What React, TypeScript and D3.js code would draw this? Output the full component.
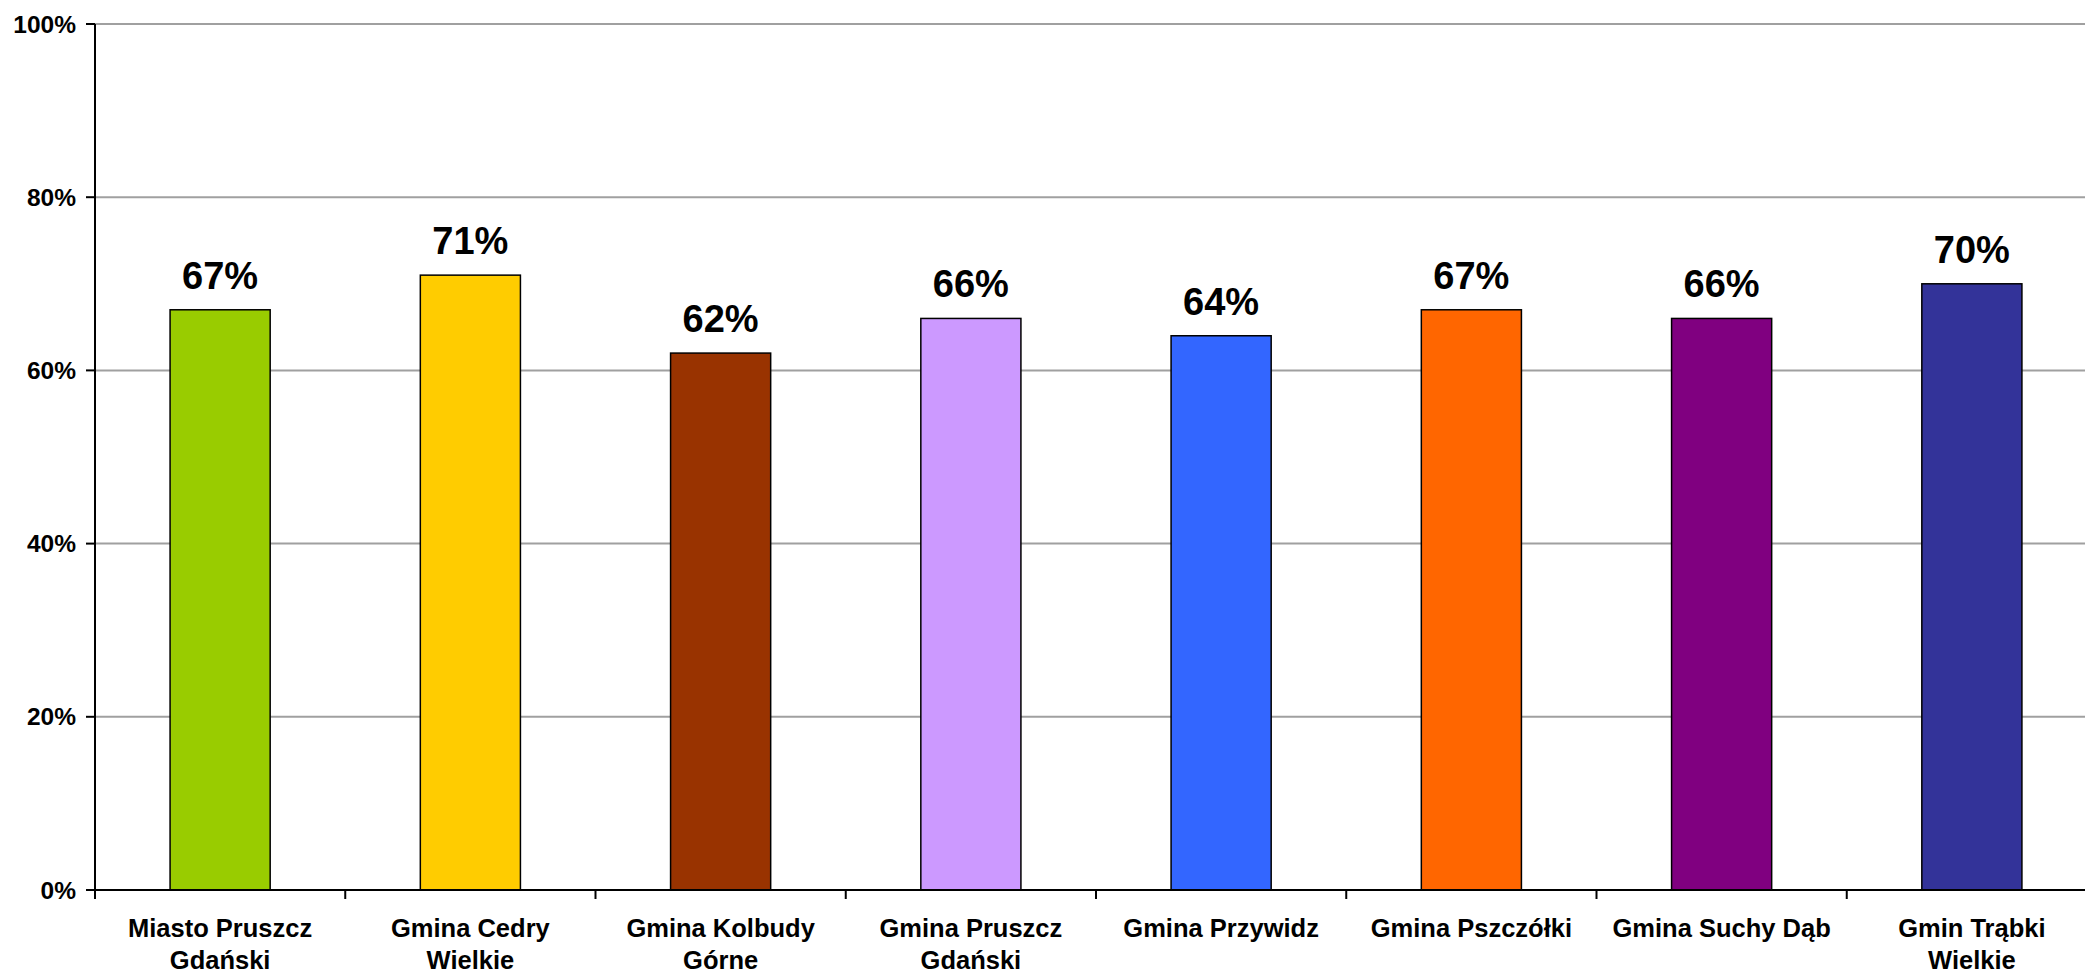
import React from "react";
import * as d3 from "d3";

const categories: string[][] = [
  ["Miasto Pruszcz", "Gdański"],
  ["Gmina Cedry", "Wielkie"],
  ["Gmina Kolbudy", "Górne"],
  ["Gmina Pruszcz", "Gdański"],
  ["Gmina Przywidz"],
  ["Gmina Pszczółki"],
  ["Gmina Suchy Dąb"],
  ["Gmin Trąbki", "Wielkie"],
];
const values: number[] = [67, 71, 62, 66, 64, 67, 66, 70];
const colors: string[] = ["#99CC00", "#FFCC00", "#993300", "#CC99FF", "#3366FF", "#FF6600", "#800080", "#333399"];
const yTicks: number[] = [0, 20, 40, 60, 80, 100];

const W = 2085;
const H = 974;
const left = 95;
const right = 2097;
const top = 24;
const bottom = 890;
const font = "'Liberation Sans', Arial, sans-serif";

export default function App() {
  const x = d3
    .scaleBand<number>()
    .domain(d3.range(categories.length))
    .range([left, right])
    .paddingInner(0.6)
    .paddingOuter(0.3);
  const band = d3.scaleBand<number>().domain(d3.range(categories.length)).range([left, right]);
  const y = d3.scaleLinear().domain([0, 100]).range([bottom, top]);

  return (
    <svg
      width={W}
      height={H}
      style={{ position: "absolute", left: 0, top: 0, background: "#fff" }}
      fontFamily={font}
    >
      {yTicks.map((t) => (
        <g key={t}>
          {t > 0 && (
            <line x1={left} x2={right} y1={y(t)} y2={y(t)} stroke="#A0A0A0" strokeWidth={2} />
          )}
          <line x1={left - 9} x2={left} y1={y(t)} y2={y(t)} stroke="#000" strokeWidth={2} />
          <text
            x={left - 19}
            y={y(t)}
            dy="0.35em"
            textAnchor="end"
            fontSize={24.5}
            fontWeight="bold"
          >
            {t}%
          </text>
        </g>
      ))}
      {values.map((v, i) => (
        <g key={i}>
          <rect
            x={x(i)!}
            y={y(v)}
            width={x.bandwidth()}
            height={y(0) - y(v)}
            fill={colors[i]}
            stroke="#000"
            strokeWidth={1.5}
          />
          <text
            x={x(i)! + x.bandwidth() / 2}
            y={y(v) - 21}
            textAnchor="middle"
            fontSize={38}
            fontWeight="bold"
          >
            {v}%
          </text>
        </g>
      ))}
      <line x1={left} x2={left} y1={top} y2={bottom} stroke="#000" strokeWidth={2} />
      <line x1={left} x2={right} y1={bottom} y2={bottom} stroke="#000" strokeWidth={2} />
      {d3.range(categories.length + 1).map((i) => {
        const xx = i < categories.length ? band(i)! : right;
        return <line key={i} x1={xx} x2={xx} y1={bottom} y2={bottom + 9} stroke="#000" strokeWidth={2} />;
      })}
      {categories.map((lines, i) => (
        <text
          key={i}
          x={band(i)! + band.bandwidth() / 2}
          y={937}
          textAnchor="middle"
          fontSize={25.5}
          fontWeight="bold"
        >
          {lines.map((l, j) => (
            <tspan key={j} x={band(i)! + band.bandwidth() / 2} y={937 + j * 32}>
              {l}
            </tspan>
          ))}
        </text>
      ))}
    </svg>
  );
}
